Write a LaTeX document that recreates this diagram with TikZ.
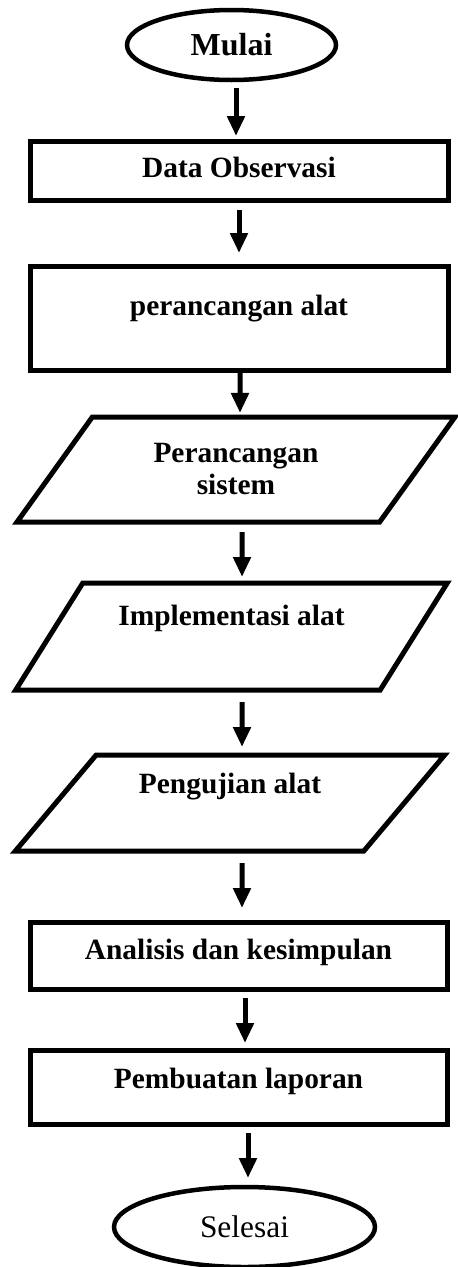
\documentclass[tikz,border=0pt]{standalone}
\usepackage{fontspec}
\setmainfont{Liberation Serif}
\usetikzlibrary{shapes.geometric,arrows.meta}
\tikzset{
  shapeline/.style={draw=black, line width=5pt, inner sep=0pt, outer sep=0pt, fill=white},
  procbox/.style={shapeline, rectangle, font=\fontsize{29.4}{33}\selectfont\bfseries, text height=20pt},
  termin/.style={shapeline, ellipse, line width=4.5pt},
  iobox/.style={shapeline, trapezium, trapezium stretches=true, font=\fontsize{29.4}{32}\selectfont\bfseries, align=center},
  arr/.style={line width=5pt, -{Triangle[width=17pt,length=20pt]}}
}
\begin{document}
\begin{tikzpicture}[x=1pt,y=-1pt]
\useasboundingbox (0,0) rectangle (458,1267);
\fill[white] (0,0) rectangle (458,1267);

\node[termin, minimum width=209pt, minimum height=70pt, font=\fontsize{32}{36}\selectfont\bfseries] (mulai) at (231.5,45) {Mulai};

\node[procbox, minimum width=418pt, minimum height=59pt, text depth=6pt] (data) at (239,170.5) {Data Observasi};

\node[procbox, minimum width=418pt, minimum height=104pt, text depth=26pt] (rancang) at (239,318) {perancangan alat};

\node[iobox, minimum width=439pt, minimum height=105pt, trapezium left angle=50, trapezium right angle=130] (sistem) at (236,469.5) {Perancangan\\sistem};

\node[iobox, minimum width=433pt, minimum height=107pt, trapezium left angle=51, trapezium right angle=129, text height=20pt, text depth=43pt] (impl) at (231.5,636.5) {Implementasi alat};

\node[iobox, minimum width=430pt, minimum height=96pt, trapezium left angle=47.5, trapezium right angle=132.5, text height=20pt, text depth=40pt] (uji) at (230,803) {Pengujian alat};

\node[procbox, minimum width=417pt, minimum height=67pt, text depth=13pt] (analisis) at (238.5,955.5) {Analisis dan kesimpulan};

\node[procbox, minimum width=417pt, minimum height=74pt, text depth=18pt] (laporan) at (238.5,1087) {Pembuatan laporan};

\node[termin, minimum width=261pt, minimum height=80pt, font=\fontsize{31.4}{36}\selectfont] (selesai) at (244.5,1227) {Selesai};

\draw[arr] ([xshift=4.5pt,yshift=-8pt]mulai.south) -- ([xshift=-3pt,yshift=5pt]data.north);
\draw[arr] ([yshift=-10pt]data.south) -- ([yshift=13pt]rancang.north);
\draw[arr] ([xshift=1pt,yshift=-3pt]rancang.south) -- ([xshift=4pt,yshift=4pt]sistem.north);
\draw[arr] ([xshift=6pt,yshift=-10pt]sistem.south) -- ([xshift=10.5pt,yshift=6pt]impl.north);
\draw[arr] ([xshift=10.5pt,yshift=-12pt]impl.south) -- ([xshift=12pt,yshift=8pt]uji.north);
\draw[arr] ([xshift=12pt,yshift=-12pt]uji.south) -- ([xshift=3.5pt,yshift=14pt]analisis.north);
\draw[arr] ([xshift=6.5pt,yshift=-9pt]analisis.south) -- ([xshift=6.5pt,yshift=7pt]laporan.north);
\draw[arr] ([xshift=9.5pt,yshift=-9pt]laporan.south) -- ([xshift=3.5pt,yshift=9pt]selesai.north);
\end{tikzpicture}
\end{document}
